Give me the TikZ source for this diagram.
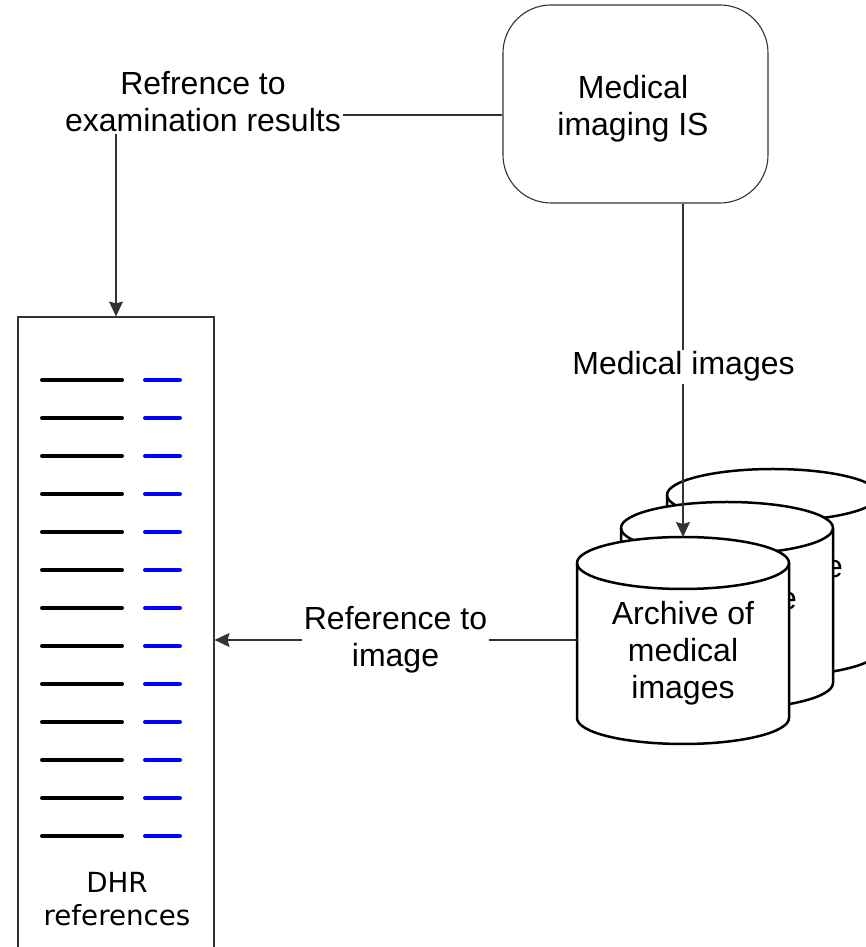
\documentclass[tikz,border=0pt]{standalone}
\usepackage{fontspec}
\setmainfont{Liberation Sans}
\newfontfamily\dejavu{DejaVu Sans}
\usetikzlibrary{arrows.meta}
\begin{document}
\begin{tikzpicture}[x=1pt,y=1pt,
  conn/.style={draw=black!80, line width=1.1pt},
  arr/.style={-{Stealth[length=15pt,width=14pt,inset=2pt]}},
  lbl/.style={fill=white, inner sep=2pt, align=center, font=\fontsize{32}{37}\selectfont},
  cyl/.style={draw=black, line width=2.5pt, fill=white, line join=round},
  refline/.style={line width=4pt, line cap=round},
  boxstyle/.style={draw=black!80, line width=1.1pt, inner sep=0pt},
]
\useasboundingbox (0,0) rectangle (866,947);
\clip (0,0) rectangle (866,947);
\fill[white] (0,0) rectangle (866,947);

% Medical imaging IS
\node[boxstyle, rounded corners=48pt, minimum width=265pt, minimum height=198pt] (is) at (635.5,843) {};
\node[align=center, inner sep=0pt, font=\fontsize{32}{37}\selectfont] (istext) at (633,838) {Medical\\imaging IS};

% DHR box
\node[boxstyle, minimum width=196pt, minimum height=646pt] (dhr) at (116,307) {};
\foreach \k in {0,...,12}{
  \draw[refline, black] (42,{567-38*\k}) -- (122,{567-38*\k});
  \draw[refline, blue] (145,{567-38*\k}) -- (180,{567-38*\k});
}
\node[font=\dejavu\fontsize{27.7}{33}\selectfont, align=center, inner sep=0pt] (dhrlbl) at (117,47.6) {DHR\\references};

% Cylinders: back
\filldraw[cyl] (667,452) -- (667,297) arc[start angle=180,end angle=360,x radius=106,y radius=26]
  -- (879,452) arc[start angle=0,end angle=180,x radius=106,y radius=26] -- cycle;
\draw[cyl, fill=none] (667,452) arc[start angle=180,end angle=360,x radius=106,y radius=26];
\node[anchor=base east, inner sep=0pt, font=\fontsize{32}{37}\selectfont] (eback) at (843,369) {e};

% middle
\filldraw[cyl] (621,419) -- (621,264) arc[start angle=180,end angle=360,x radius=106,y radius=26]
  -- (833,419) arc[start angle=0,end angle=180,x radius=106,y radius=26] -- cycle;
\draw[cyl, fill=none] (621,419) arc[start angle=180,end angle=360,x radius=106,y radius=26];
\node[anchor=base east, inner sep=0pt, font=\fontsize{32}{37}\selectfont] (emid) at (797,337) {e};

% front
\filldraw[cyl] (577,384) -- (577,229) arc[start angle=180,end angle=360,x radius=106,y radius=26]
  -- (789,384) arc[start angle=0,end angle=180,x radius=106,y radius=26] -- cycle;
\draw[cyl, fill=none] (577,384) arc[start angle=180,end angle=360,x radius=106,y radius=26];
\node[align=center, inner sep=0pt, font=\fontsize{32}{37}\selectfont] (arch) at (683,293.3) {Archive of\\medical\\images};
\coordinate (archtop) at (683,410);
\coordinate (archwest) at (577,307);

% connectors
\draw[conn, arr] (is.west |- 0,832) -| (dhr.north);
\draw[conn, arr] (is.south -| archtop) -- (archtop);
\draw[conn, arr] (archwest) -- (dhr.east);

% labels
\node[lbl] (lblexam) at (203,845) {Refrence to\\examination results};
\node[lbl] (lblimg) at (683.5,580.3) {Medical images};
\node[lbl] (lblref) at (395.5,307) {Reference to\\image};
\end{tikzpicture}
\end{document}
